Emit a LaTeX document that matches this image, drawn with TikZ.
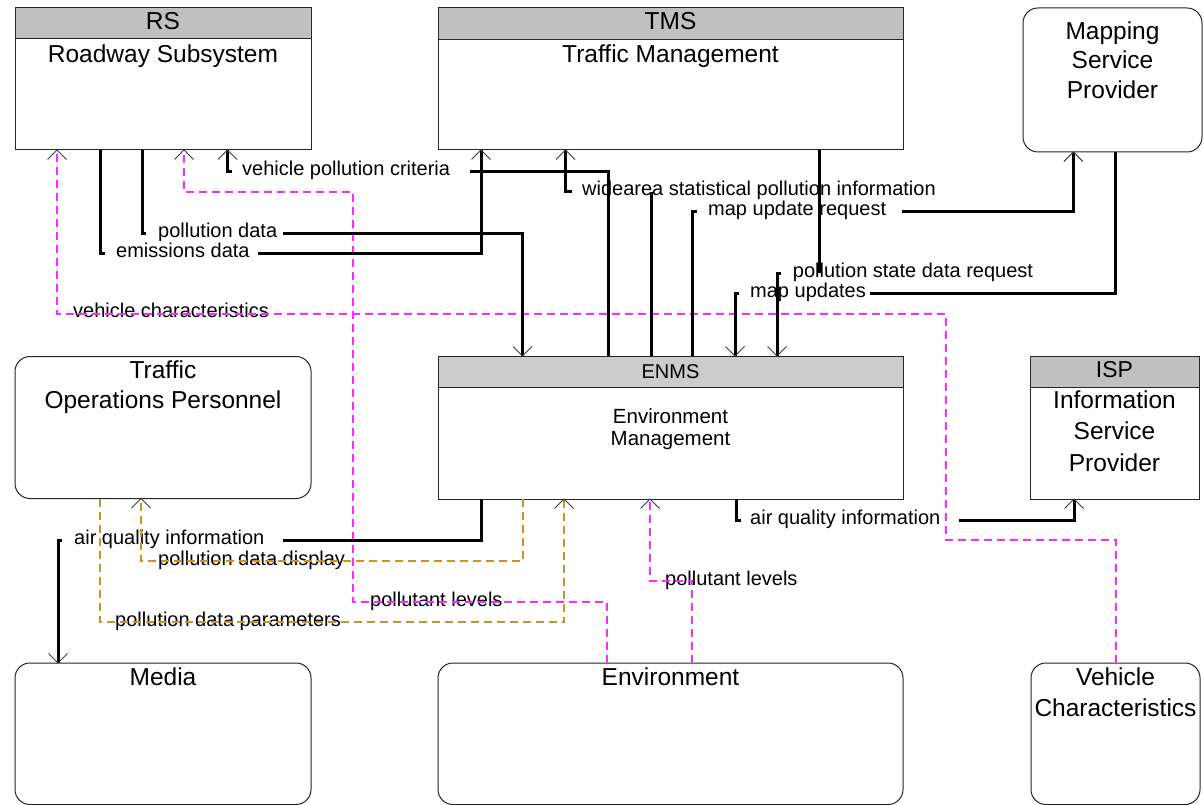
\documentclass[tikz,border=0pt]{standalone}
\usepackage{fontspec}
\setmainfont{Liberation Sans}
\definecolor{hdr}{RGB}{192,192,192}
\definecolor{hdrl}{RGB}{204,204,204}
\definecolor{mag}{RGB}{255,40,255}
\definecolor{gold}{RGB}{205,145,40}
\definecolor{tipc}{RGB}{60,60,60}
\begin{document}
\begin{tikzpicture}[x=1pt,y=-1pt,
  box/.style={draw=black!85, line width=1pt, inner sep=0pt, outer sep=0pt, anchor=north west},
  rbox/.style={box, rounded corners=15pt},
  hbox/.style={fill=#1, draw=black!85, line width=1pt},
  ttl/.style={inner sep=0pt, font=\fontsize{24.5}{30}\selectfont, anchor=base},
  mttl/.style={inner sep=0pt, align=center, anchor=north},
  lbl/.style={inner sep=0pt, font=\fontsize{20}{24}\selectfont, anchor=base west},
  flow/.style={line width=3pt, black},
  mflow/.style={line width=1.4pt, mag, dash pattern=on 8pt off 5pt},
  gflow/.style={line width=1.4pt, gold, dash pattern=on 8pt off 5pt},
  uptip/.pic={\draw[draw=tipc, line width=1pt, solid, line cap=butt, line join=miter] (-9.5,9.5) -- (0,0) -- (9.5,9.5);},
  downtip/.pic={\draw[draw=tipc, line width=1pt, solid, line cap=butt, line join=miter] (-9.5,-9.5) -- (0,0) -- (9.5,-9.5);},
]
\useasboundingbox (0,0) rectangle (1203,805);
\fill[white] (0,0) rectangle (1203,805);

% ---------- boxes ----------
\node[box, minimum width=296pt, minimum height=142pt] (rs) at (15,8) {};
\path[hbox=hdr] (rs.north west) rectangle ([yshift=-31pt]rs.north east);
\node[ttl] (rs-h) at (163,29.5) {RS};
\node[ttl] (rs-b) at (163,62.5) {Roadway Subsystem};

\node[box, minimum width=465pt, minimum height=142pt] (tms) at (438,8) {};
\path[hbox=hdr] (tms.north west) rectangle ([yshift=-32pt]tms.north east);
\node[ttl] (tms-h) at (670.5,29.5) {TMS};
\node[ttl] (tms-b) at (670.5,62.5) {Traffic Management};

\node[rbox, minimum width=179pt, minimum height=144pt] (msp) at (1023,8) {};
\node[mttl, font=\fontsize{24.5}{29.5}\selectfont] (msp-b) at (1112.5,21.5) {Mapping\\Service\\Provider};

\node[rbox, minimum width=296pt, minimum height=142pt] (top) at (15,356.5) {};
\node[mttl, font=\fontsize{24.5}{30}\selectfont] (top-b) at (163,360.5) {Traffic\\Operations Personnel};

\node[box, minimum width=465.5pt, minimum height=143pt] (enms) at (438,356) {};
\path[hbox=hdrl] (enms.north west) rectangle ([yshift=-31pt]enms.north east);
\node[ttl, font=\fontsize{20}{24}\selectfont] (enms-h) at (670.5,378) {ENMS};
\node[mttl, font=\fontsize{20.5}{21.7}\selectfont] (enms-b) at (670.5,408.3) {Environment\\Management};

\node[box, minimum width=169pt, minimum height=143pt] (isp) at (1030,356) {};
\path[hbox=hdr] (isp.north west) rectangle ([yshift=-31pt]isp.north east);
\node[ttl, font=\fontsize{23}{28}\selectfont] (isp-h) at (1114.5,377.5) {ISP};
\node[mttl, font=\fontsize{24.5}{31.3}\selectfont] (isp-b) at (1114.5,390.5) {Information\\Service\\Provider};

\node[rbox, minimum width=296pt, minimum height=141.5pt] (media) at (15,663) {};
\node[ttl] (media-b) at (163,685) {Media};

\node[rbox, minimum width=465pt, minimum height=141.5pt] (env) at (438,663) {};
\node[ttl] (env-b) at (670.5,685) {Environment};

\node[rbox, minimum width=169pt, minimum height=141.5pt] (vc) at (1031,663) {};
\node[mttl, font=\fontsize{24.5}{31.5}\selectfont] (vc-b) at (1115.5,667.5) {Vehicle\\Characteristics};

% ---------- labels ----------
\node[lbl] (lVPC) at (242,175.7) {vehicle pollution criteria};
\node[lbl] (lWSP) at (582,195.7) {widearea statistical pollution information};
\node[lbl] (lMUR) at (708,215.7) {map update request};
\node[lbl] (lPD)  at (158,237.3) {pollution data};
\node[lbl] (lED)  at (116,257.3) {emissions data};
\node[lbl] (lPSR) at (792.7,277.3) {pollution state data request};
\node[lbl] (lMU)  at (750,298) {map updates};
\node[lbl] (lVC)  at (73,318) {vehicle characteristics};
\node[lbl] (lAQR) at (750,524) {air quality information};
\node[lbl] (lAQL) at (74,544) {air quality information};
\node[lbl] (lPDD) at (158,565) {pollution data display};
\node[lbl] (lPLR) at (665,585) {pollutant levels};
\node[lbl] (lPLL) at (370,606) {pollutant levels};
\node[lbl] (lPDP) at (115,626) {pollution data parameters};

% ---------- dashed flows ----------
% vehicle characteristics: Vehicle Characteristics -> RS
\draw[mflow] ([xshift=85pt]vc.north west) |- (946,540) |- (57,314) -- ([xshift=42pt]rs.south west) pic {uptip};
% pollutant levels: Environment -> RS
\draw[mflow] ([xshift=169pt]env.north west) |- (353,602) |- (184,192) -- ([xshift=169pt]rs.south west) pic {uptip};
% pollutant levels: Environment -> ENMS
\draw[mflow] ([xshift=254pt]env.north west) |- (650,581) -- ([xshift=212pt]enms.south west) pic {uptip};
% pollution data parameters: TOP -> ENMS
\draw[gflow] ([xshift=85pt]top.south west) |- (564,622) -- ([xshift=126pt]enms.south west) pic {uptip};
% pollution data display: ENMS -> TOP
\draw[gflow] ([xshift=85pt]enms.south west) |- (141,561) -- ([xshift=126pt]top.south west) pic {uptip};

% ---------- solid flows ----------
% emissions data: RS -> TMS
\draw[flow] ([xshift=85pt]rs.south west) |- ([xshift=-11pt,yshift=4pt]lED.base west);
\draw[flow] ([xshift=8pt,yshift=4pt]lED.base east) -| ([xshift=43pt]tms.south west) pic {uptip};
% pollution data: RS -> ENMS
\draw[flow] ([xshift=127pt]rs.south west) |- ([xshift=-12pt,yshift=4pt]lPD.base west);
\draw[flow] ([xshift=6pt,yshift=4pt]lPD.base east) -| ([xshift=84.5pt]enms.north west) pic {downtip};
% vehicle pollution criteria: ENMS -> RS
\draw[flow] ([xshift=170pt]enms.north west) |- ([xshift=20pt,yshift=4pt]lVPC.base east);
\draw[flow] ([xshift=-10pt,yshift=4pt]lVPC.base west) -| ([xshift=212.5pt]rs.south west) pic {uptip};
% widearea statistical pollution information: ENMS -> TMS
\draw[flow] ([xshift=213pt]enms.north west) -- +(0,-164);
\draw[flow] ([xshift=-10pt,yshift=4pt]lWSP.base west) -| ([xshift=127.5pt]tms.south west) pic {uptip};
% map update request: ENMS -> Mapping
\draw[flow] ([xshift=254.5pt]enms.north west) |- ([xshift=-11pt,yshift=4pt]lMUR.base west);
\draw[flow] ([xshift=16pt,yshift=4pt]lMUR.base east) -| ([xshift=50.3pt]msp.south west) pic {uptip};
% pollution state data request: TMS -> ENMS
\draw[flow] ([xshift=381.3pt]tms.south west) -- +(0,123.3);
\draw[flow] ([xshift=-11.7pt,yshift=4pt]lPSR.base west) -| ([xshift=339pt]enms.north west) pic {downtip};
% map updates: Mapping -> ENMS
\draw[flow] ([xshift=92pt]msp.south west) |- ([xshift=4.4pt,yshift=4pt]lMU.base east);
\draw[flow] ([xshift=-11.5pt,yshift=4pt]lMU.base west) -| ([xshift=297pt]enms.north west) pic {downtip};
% air quality information: ENMS -> Media
\draw[flow] ([xshift=43pt]enms.south west) |- ([xshift=19pt,yshift=4pt]lAQL.base east);
\draw[flow] ([xshift=-12pt,yshift=4pt]lAQL.base west) -| ([xshift=43pt]media.north west) pic {downtip};
% air quality information: ENMS -> ISP
\draw[flow] ([xshift=298pt]enms.south west) |- ([xshift=-9pt,yshift=4pt]lAQR.base west);
\draw[flow] ([xshift=18.6pt,yshift=4pt]lAQR.base east) -| ([xshift=44pt]isp.south west) pic {uptip};
\end{tikzpicture}
\end{document}
